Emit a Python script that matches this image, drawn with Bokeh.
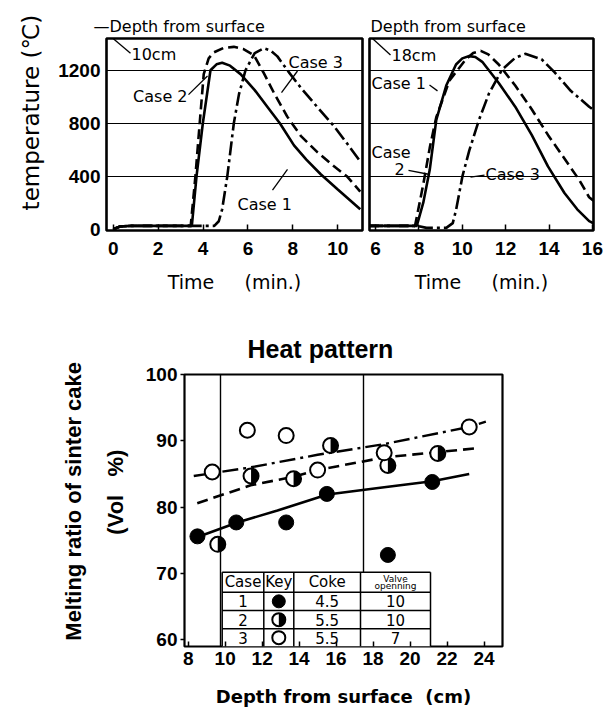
import math
from bokeh.plotting import figure
from bokeh.models import Label, Arrow, FixedTicker, Range1d, LinearAxis
from bokeh.layouts import column, row
from bokeh.embed import file_html
from bokeh.resources import INLINE
from bokeh.core.properties import value

# ---------------- data ----------------
# Heat pattern at 10 cm depth: time (min) / temperature (deg C)
t10_case1 = [0.0, 0.3, 0.8, 2.0, 3.5, 3.71, 3.99, 4.33, 4.6, 4.85, 5.2, 5.67, 6.3, 6.86, 7.42, 8.05, 8.6, 9.24, 10.0, 11.0]
T10_case1 = [0, 20, 25, 25, 25, 400, 800, 1200, 1245, 1257, 1235, 1171, 1050, 925, 800, 633, 525, 415, 300, 150]
t10_case2 = [0.0, 0.3, 0.8, 2.0, 3.45, 3.66, 3.85, 4.03, 4.25, 4.48, 4.9, 5.37, 5.8, 6.26, 6.7, 7.16, 7.75, 8.35, 9.1, 9.83, 10.4, 11.0]
T10_case2 = [0, 20, 25, 25, 25, 400, 800, 1171, 1290, 1335, 1368, 1377, 1360, 1315, 1180, 1028, 850, 705, 580, 475, 400, 284]
t10_case3 = [0.0, 0.3, 0.8, 2.0, 3.5, 4.0, 4.5, 4.7, 4.85, 5.08, 5.37, 5.6, 5.89, 6.3, 6.71, 7.0, 7.31, 7.8, 8.35, 9.1, 9.83, 10.4, 11.0]
T10_case3 = [0, 20, 25, 25, 25, 25, 25, 60, 150, 400, 800, 1020, 1200, 1330, 1366, 1350, 1305, 1190, 1069, 920, 778, 650, 511]

# Heat pattern at 18 cm depth
t18_case1 = [5.7, 7.0, 7.9, 8.2, 8.5, 8.8, 9.26, 9.71, 10.0, 10.32, 10.6, 10.92, 11.68, 12.44, 13.2, 13.95, 14.71, 15.3, 15.85, 16.05]
T18_case1 = [25, 25, 25, 200, 450, 826, 1085, 1244, 1290, 1307, 1300, 1264, 1104, 925, 712, 474, 273, 150, 61, 45]
t18_case2 = [5.7, 7.0, 7.82, 8.2, 8.5, 8.8, 9.41, 10.17, 10.5, 10.85, 11.2, 11.68, 12.44, 13.2, 13.95, 14.86, 15.4, 15.85, 16.05]
T18_case2 = [25, 25, 25, 339, 616, 846, 1124, 1284, 1330, 1347, 1320, 1244, 1085, 906, 712, 498, 370, 241, 215]
t18_case3 = [5.7, 7.0, 7.9, 8.35, 9.26, 9.56, 9.71, 10.01, 10.32, 10.77, 11.23, 11.83, 12.44, 12.9, 13.65, 14.26, 15.0, 15.85, 16.05]
T18_case3 = [25, 25, 25, 10, 10, 46, 143, 403, 593, 826, 1025, 1204, 1294, 1324, 1284, 1184, 1045, 925, 900]

# Melting ratio of sinter cake vs depth from surface
depth_case1 = [8.5, 10.6, 13.3, 15.5, 18.8, 21.2]
melt_case1 = [75.6, 77.7, 77.7, 82.0, 72.8, 83.8]
depth_case2 = [9.6, 11.4, 13.7, 15.7, 18.8, 21.5]
melt_case2 = [74.4, 84.7, 84.3, 89.3, 86.3, 88.1]
depth_case3 = [9.3, 11.2, 13.3, 15.0, 18.6, 23.2]
melt_case3 = [85.3, 91.6, 90.8, 85.6, 88.2, 92.1]

fit_depth_case1 = [8.4, 10.66, 12.83, 15.53, 18.6, 21.2, 23.2]
fit_melt_case1 = [75.4, 77.7, 79.5, 81.9, 83.0, 83.9, 85.0]
fit_depth_case2 = [8.49, 11.38, 13.72, 15.0, 18.6, 21.5, 23.7]
fit_melt_case2 = [80.6, 83.3, 84.6, 85.6, 87.5, 88.3, 88.9]
fit_depth_case3 = [8.3, 11.38, 15.0, 18.6, 23.2, 24.1]
fit_melt_case3 = [84.7, 86.0, 87.9, 89.5, 92.1, 92.9]

table_header = ["Case", "Key", "Coke"]
table_case = ["1", "2", "3"]
table_coke = ["4.5", "5.5", "5.5"]
table_valve = ["10", "10", "7"]

top_x_ticks_10 = [0, 2, 4, 6, 8, 10]
top_x_ticks_18 = [6, 8, 10, 12, 14, 16]
top_y_ticks = [0, 400, 800, 1200]
top_grid = [400, 800, 1200]
bot_x_ticks = [8, 10, 12, 14, 16, 18, 20, 22, 24]
bot_y_ticks = [60, 70, 80, 90, 100]

# ---------------- geometry (page pixels) ----------------
TOP_H = 303
P1 = dict(w=364, h=TOP_H, l=106, r=2, t=38, b=70, ox=0, oy=0, xr=(-0.3, 11.1), yr=(-10, 1440))
P2 = dict(w=251, h=TOP_H, l=5, r=22, t=32, b=73, ox=364, oy=0, xr=(5.72, 16.05), yr=(-10, 1440))
P3 = dict(w=615, h=413, l=184, r=113, t=71, b=70, ox=0, oy=TOP_H, xr=(7.8, 25.0), yr=(59, 100))


def converter(g):
    fl = g["ox"] + g["l"]
    ft = g["oy"] + g["t"]
    fw = g["w"] - g["l"] - g["r"]
    fh = g["h"] - g["t"] - g["b"]
    xr, yr = g["xr"], g["yr"]

    def f(px, py):
        return (xr[0] + (px - fl) / fw * (xr[1] - xr[0]),
                yr[1] - (py - ft) / fh * (yr[1] - yr[0]))
    return f


c1, c2, c3 = converter(P1), converter(P2), converter(P3)

TICK_FONT = "Liberation Sans"
ANN_FONT = "DejaVu Sans"
NB = "\u00a0"


def make_fig(g):
    p = figure(width=g["w"], height=g["h"], x_range=Range1d(*g["xr"]), y_range=Range1d(*g["yr"]),
               min_border_left=g["l"], min_border_right=g["r"], min_border_top=g["t"],
               min_border_bottom=g["b"], output_backend="svg", toolbar_location=None)
    p.background_fill_color = "white"
    p.border_fill_color = "white"
    p.outline_line_color = "black"
    for ax in (p.xaxis, p.yaxis):
        ax.axis_line_color = None
        ax.minor_tick_line_color = None
        ax.major_label_text_font = TICK_FONT
        ax.major_label_text_font_style = "bold"
        ax.major_label_text_font_size = "19px"
        ax.major_label_text_color = "black"
        ax.major_tick_line_color = "black"
        ax.major_tick_line_width = 1.5
        ax.axis_label_text_color = "black"
    return p


def add_label(p, conv, px, py, text, size="16px", font=ANN_FONT, style="normal", align="left", angle=0.0):
    x, y = conv(px, py)
    p.add_layout(Label(x=x, y=y, text=text, text_font=font, text_font_size=size,
                       text_font_style=style, text_align=align, text_baseline="middle",
                       text_color="black", angle=angle))


def add_leader(p, conv, p0, p1, width=1.3):
    x0, y0 = conv(*p0)
    x1, y1 = conv(*p1)
    p.add_layout(Arrow(end=None, x_start=x0, y_start=y0, x_end=x1, y_end=y1,
                       line_color="black", line_width=width))


def style_top(p, xticks, title_text, title_offset):
    p.outline_line_width = 2.6
    p.xgrid.visible = False
    p.ygrid.ticker = FixedTicker(ticks=top_grid)
    p.ygrid.grid_line_color = "black"
    p.ygrid.grid_line_width = 1.2
    p.xaxis.ticker = FixedTicker(ticks=xticks)
    p.xaxis.major_tick_in = 6
    p.xaxis.major_tick_out = 0
    p.xaxis.major_label_standoff = 11
    p.xaxis.axis_label = "Time" + NB * 5 + "(min.)"
    p.xaxis.axis_label_text_font = ANN_FONT
    p.xaxis.axis_label_text_font_style = "normal"
    p.xaxis.axis_label_text_font_size = "19px"
    p.xaxis.axis_label_standoff = 13
    p.title.text = title_text
    p.title.align = "left"
    p.title.offset = title_offset
    p.title.standoff = 6
    p.title.text_font = ANN_FONT
    p.title.text_font_style = "normal"
    p.title.text_font_size = "16px"
    p.title.text_color = "black"


def draw_curves(p, data):
    (ta, Ta), (tb, Tb), (tc, Tc) = data
    p.line(ta, Ta, line_color="black", line_width=2.6)
    p.line(tb, Tb, line_color="black", line_width=2.6, line_dash="10 5")
    p.line(tc, Tc, line_color="black", line_width=2.6, line_dash="14 4 3 4")


# ---------------- top-left: 10 cm ----------------
p1 = make_fig(P1)
style_top(p1, top_x_ticks_10, "\u2014Depth from surface", -13)
p1.yaxis.ticker = FixedTicker(ticks=top_y_ticks)
p1.yaxis.major_tick_in = 0
p1.yaxis.major_tick_out = 0
p1.yaxis.major_label_standoff = 6
p1.yaxis.axis_label = NB * 6 + "temperature (\u2103)"
p1.yaxis.axis_label_text_font = ANN_FONT
p1.yaxis.axis_label_text_font_style = "normal"
p1.yaxis.axis_label_text_font_size = "23px"
p1.yaxis.axis_label_standoff = 11
draw_curves(p1, [(t10_case1, T10_case1), (t10_case2, T10_case2), (t10_case3, T10_case3)])
add_leader(p1, c1, (94, 22), (130, 53))
add_label(p1, c1, 131, 54, "10cm", size="16px")
add_label(p1, c1, 187, 97, "Case 2", size="16px", align="right")
add_leader(p1, c1, (188, 95), (207, 76))
add_label(p1, c1, 288, 62, "Case 3", size="16px")
add_leader(p1, c1, (297, 71), (281, 93))
add_label(p1, c1, 237, 207, "Case 1", size="16px")
add_leader(p1, c1, (272, 192), (287, 171))

# ---------------- top-right: 18 cm ----------------
p2 = make_fig(P2)
style_top(p2, top_x_ticks_18, "Depth from surface", 1)
p2.yaxis.visible = False
draw_curves(p2, [(t18_case1, T18_case1), (t18_case2, T18_case2), (t18_case3, T18_case3)])
add_leader(p2, c2, (355, 16), (390, 49))
add_label(p2, c2, 391, 50, "18cm", size="16px")
add_label(p2, c2, 371, 78, "Case 1", size="16px")
add_leader(p2, c2, (429, 80), (437, 86))
add_label(p2, c2, 371, 150, "Case", size="16px")
add_label(p2, c2, 394, 167, "2", size="16px")
add_leader(p2, c2, (408, 168), (428, 172))
add_label(p2, c2, 485, 172, "Case 3", size="16px")
add_leader(p2, c2, (470, 175), (484, 173))

# ---------------- bottom: melting ratio ----------------
p3 = make_fig(P3)
p3.outline_line_width = 2.2
p3.ygrid.visible = False
grid_px = [220, 363]
p3.xgrid.ticker = FixedTicker(ticks=[c3(px, 0)[0] for px in grid_px])
p3.xgrid.grid_line_color = "black"
p3.xgrid.grid_line_width = 1.4
p3.xaxis.ticker = FixedTicker(ticks=bot_x_ticks)
p3.xaxis.major_tick_in = 5
p3.xaxis.major_tick_out = 0
p3.xaxis.major_label_standoff = 5
p3.yaxis.ticker = FixedTicker(ticks=bot_y_ticks)
p3.yaxis.major_tick_in = 0
p3.yaxis.major_tick_out = 4
p3.yaxis.major_label_standoff = 3
p3.xaxis.axis_label = "Depth" + NB + "from" + NB + "surface" + NB * 2 + "(cm)"
p3.xaxis.axis_label_text_font = ANN_FONT
p3.xaxis.axis_label_text_font_style = "bold"
p3.xaxis.axis_label_text_font_size = "18px"
p3.xaxis.axis_label_standoff = 18
p3.yaxis.axis_label = NB * 6 + "(Vol" + NB * 3 + "%)"
p3.yaxis.axis_label_text_font = TICK_FONT
p3.yaxis.axis_label_text_font_style = "bold"
p3.yaxis.axis_label_text_font_size = "22px"
p3.yaxis.axis_label_standoff = 15

outer = LinearAxis(ticker=FixedTicker(ticks=[]), axis_label=NB * 3 + "Melting ratio of sinter cake",
                   axis_line_color=None, major_tick_line_color=None, minor_tick_line_color=None,
                   major_label_text_font_size="0px", axis_label_standoff=14,
                   axis_label_text_font=TICK_FONT, axis_label_text_font_style="bold",
                   axis_label_text_font_size="22px", axis_label_text_color="black")
p3.add_layout(outer, "left")

p3.title.text = "Heat pattern"
p3.title.align = "left"
p3.title.offset = 63
p3.title.standoff = 24
p3.title.text_font = TICK_FONT
p3.title.text_font_style = "bold"
p3.title.text_font_size = "25px"
p3.title.text_color = "black"

# fitted trend lines
p3.line(fit_depth_case1, fit_melt_case1, line_color="black", line_width=2.6)
p3.line(fit_depth_case2, fit_melt_case2, line_color="black", line_width=2.6, line_dash="11 6")
p3.line(fit_depth_case3, fit_melt_case3, line_color="black", line_width=2.4, line_dash="16 5 3 5")

# legend table (geometry in page pixels, converted to data units)
tab_cols_px = [221.7, 263.3, 293.3, 360, 430]
tab_rows_px = [571.7, 591.7, 610, 628.3, 646]
tcx = [c3(px, 0)[0] for px in tab_cols_px]
tcy = [c3(0, py)[1] for py in tab_rows_px]
p3.quad(left=[tcx[0]], right=[tcx[-1]], bottom=[tcy[-1]], top=[tcy[0]], fill_color="white", line_color=None)
p3.segment(x0=[tcx[0]] * 4, x1=[tcx[-1]] * 4, y0=tcy[:4], y1=tcy[:4], line_color="black", line_width=1.5)
p3.segment(x0=tcx, x1=tcx, y0=[tcy[0]] * 5, y1=[tcy[-1]] * 5, line_color="black", line_width=1.5)
col_mid = [(tcx[i] + tcx[i + 1]) / 2 for i in range(4)]
row_mid = [(tcy[i] + tcy[i + 1]) / 2 for i in range(4)]
p3.text(x=col_mid[:3], y=[row_mid[0]] * 3, text=table_header, text_font=value(ANN_FONT),
        text_font_size=value("15px"), text_align="center", text_baseline="middle")
p3.text(x=[col_mid[3], col_mid[3]], y=[row_mid[0] + 0.55, row_mid[0] - 0.6], text=["Valve", "openning"],
        text_font=value(ANN_FONT), text_font_size=value("9px"), text_align="center", text_baseline="middle")
p3.text(x=[col_mid[0]] * 3, y=row_mid[1:], text=table_case, text_font=value(ANN_FONT),
        text_font_size=value("15px"), text_align="center", text_baseline="middle")
p3.text(x=[col_mid[2]] * 3, y=row_mid[1:], text=table_coke, text_font=value(ANN_FONT),
        text_font_size=value("15px"), text_align="center", text_baseline="middle")
p3.text(x=[col_mid[3]] * 3, y=row_mid[1:], text=table_valve, text_font=value(ANN_FONT),
        text_font_size=value("15px"), text_align="center", text_baseline="middle")

MS = 15
KS = 13


def draw_markers(xs, ys, kind, size):
    r = size / 2.0
    if kind == 1:
        p3.scatter(xs, ys, marker="circle", size=size, fill_color="black", line_color="black")
    elif kind == 2:
        p3.scatter(xs, ys, marker="circle", size=size, fill_color="white", line_color=None)
        p3.wedge(xs, ys, radius=r, radius_units="screen", start_angle=-math.pi / 2, end_angle=math.pi / 2,
                 fill_color="black", line_color=None)
        p3.scatter(xs, ys, marker="circle", size=size, fill_color=None, line_color="black", line_width=2)
    else:
        p3.scatter(xs, ys, marker="circle", size=size, fill_color="white", line_color="black", line_width=2)


draw_markers(depth_case1, melt_case1, 1, MS)
draw_markers(depth_case2, melt_case2, 2, MS)
draw_markers(depth_case3, melt_case3, 3, MS)
for i, kind in enumerate([1, 2, 3]):
    draw_markers([col_mid[1]], [row_mid[i + 1]], kind, KS)

layout = column(row(p1, p2, spacing=0), p3, spacing=0)
open("out.html", "w").write(file_html(layout, INLINE))
